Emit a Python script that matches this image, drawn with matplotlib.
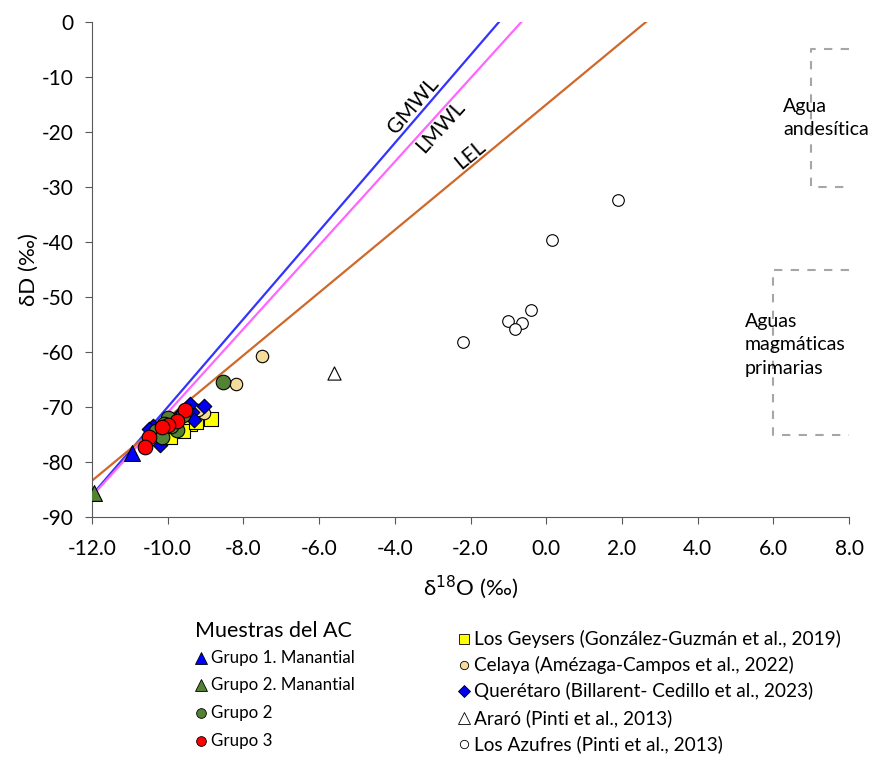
import numpy as np
import matplotlib.pyplot as plt

plt.rcParams['font.family'] = ['Lato', 'DejaVu Sans']

# meteoric / evaporation lines: slope, intercept
lines = {'GMWL': (8.0, 10.0), 'LMWL': (7.6, 5.0), 'LEL': (5.7, -15.0)}
line_colors = {'GMWL': '#3333ff', 'LMWL': '#ff66ff', 'LEL': '#d0682a'}
line_label_x = {'GMWL': -3.3, 'LMWL': -3.0, 'LEL': -1.85}
line_label_va = {'GMWL': 'bottom', 'LMWL': 'top', 'LEL': 'bottom'}

# samples (d18O, dD)
g1_man_x = [-10.95]
g1_man_y = [-78.3]
g2_man_x = [-11.95]
g2_man_y = [-85.6]
g2_x = [-8.55, -10.0, -9.75, -10.3, -10.15, -9.9, -9.6, -10.1]
g2_y = [-65.4, -72.0, -74.2, -74.3, -75.4, -73.5, -71.5, -73.0]
g3_x = [-9.55, -9.75, -10.0, -10.15, -10.5, -10.6]
g3_y = [-70.5, -72.6, -73.2, -73.6, -75.5, -77.3]
geysers_x = [-8.85, -9.4, -9.6, -9.95, -9.25]
geysers_y = [-72.2, -73.0, -74.4, -75.4, -72.8]
celaya_x = [-7.5, -8.2, -9.05, -9.2]
celaya_y = [-60.8, -65.8, -71.0, -70.5]
quer_x = [-9.05, -9.35, -9.4, -10.4, -10.2, -9.3, -9.7, -10.5]
quer_y = [-69.8, -70.9, -69.4, -73.4, -76.9, -72.3, -71.5, -74.0]
ararao_x = [-5.6]
ararao_y = [-63.9]
azufres_x = [1.9, 0.15, -0.4, -0.65, -1.0, -0.82, -2.2]
azufres_y = [-32.3, -39.7, -52.4, -54.7, -54.3, -55.9, -58.1]

# reference fields: x0, x1, y_top, y_bottom
andesitic = (7.0, 8.0, -5.0, -30.0)
magmatic = (6.0, 8.0, -45.0, -75.0)

fig = plt.figure(figsize=(8.8, 7.66), dpi=100)
ax = fig.add_axes([0.1045, 0.325, 0.8605, 0.6463])
ax.set_xlim(-12, 8)
ax.set_ylim(-90, 0)

xs = np.array([-12.0, 8.0])
for name, (m, b) in lines.items():
    ax.plot(xs, m * xs + b, color=line_colors[name], lw=1.6, zorder=2)
    lx = line_label_x[name]
    p1 = ax.transData.transform((0, b))
    p2 = ax.transData.transform((1, m + b))
    ang = np.degrees(np.arctan2(p2[1] - p1[1], p2[0] - p1[0]))
    ax.text(lx, m * lx + b, name, rotation=ang, rotation_mode='anchor', fontsize=15,
            ha='center', va=line_label_va[name])

gray = '#a6a6a6'
for x0, x1, yt, yb in [andesitic, magmatic]:
    ax.plot([x1, x0, x0, x1], [yt, yt, yb, yb], color=gray, lw=1.5,
            ls=(0, (4, 4)), zorder=1)
ax.text(6.26, -17.4, 'Agua\nandesítica', fontsize=14,
        ha='left', va='center', linespacing=1.45)
ax.text(5.25, -58.7, 'Aguas\nmagmáticas\nprimarias', fontsize=14,
        ha='left', va='center', linespacing=1.45)

ek = dict(edgecolors='black', linewidths=0.8)
ax.scatter(azufres_x, azufres_y, marker='o', s=70, facecolors='white', zorder=3, **ek)
ax.scatter(ararao_x, ararao_y, marker='^', s=90, facecolors='white', zorder=3, **ek)
ax.scatter(geysers_x, geysers_y, marker='s', s=95, facecolors='#ffff00', zorder=3, **ek)
ax.scatter(celaya_x, celaya_y, marker='o', s=80, facecolors='#f5dc9a', zorder=3, **ek)
ax.scatter(quer_x, quer_y, marker='D', s=55, facecolors='#0000ee', zorder=3, **ek)
ax.scatter(g2_x, g2_y, marker='o', s=110, facecolors='#548235', zorder=4, **ek)
ax.scatter(g3_x, g3_y, marker='o', s=110, facecolors='#ff0000', zorder=5, **ek)
ax.scatter(g1_man_x, g1_man_y, marker='^', s=130, facecolors='#0000ff', zorder=5, **ek)
ax.scatter(g2_man_x, g2_man_y, marker='^', s=130, facecolors='#548235', zorder=5, **ek)

ax.set_xticks(np.arange(-12, 9, 2))
ax.set_xticklabels([f'{v:.1f}' for v in np.arange(-12, 9, 2)], fontsize=15)
ax.set_yticks(np.arange(-90, 1, 10))
ax.set_yticklabels([f'{v}' for v in np.arange(-90, 1, 10)], fontsize=15)
for s in ['top', 'right']:
    ax.spines[s].set_visible(False)
for s in ['left', 'bottom']:
    ax.spines[s].set_color('#595959')
ax.tick_params(direction='out', length=5, color='#595959')
ax.tick_params(axis='x', pad=11)
ax.tick_params(axis='y', pad=8)
ax.set_xlabel('δ$^{18}$O (‰)', fontsize=16, labelpad=10)
ax.set_ylabel('δD (‰)', fontsize=16, labelpad=2)

# legend drawn as figure text
def fy(py):
    return 1 - py / 766
def fx(px):
    return px / 880

fig.text(fx(195), fy(631), 'Muestras del AC', fontsize=15.5, va='center')
left_items = [('^', '#0000ff', 'Grupo 1. Manantial'),
              ('^', '#548235', 'Grupo 2. Manantial'),
              ('o', '#548235', 'Grupo 2'),
              ('o', '#ff0000', 'Grupo 3')]
right_items = [('s', '#ffff00', 'Los Geysers (González-Guzmán et al., 2019)'),
               ('o', '#f5dc9a', 'Celaya (Amézaga-Campos et al., 2022)'),
               ('D', '#0000ee', 'Querétaro (Billarent- Cedillo et al., 2023)'),
               ('^', 'white', 'Araró (Pinti et al., 2013)'),
               ('o', 'white', 'Los Azufres (Pinti et al., 2013)')]
left_rows = [658, 685, 713, 741]
right_rows = [639, 665, 691, 718, 744]
for (mk, fc, lab), py in zip(left_items, left_rows):
    fig.lines.append(plt.Line2D([fx(201)], [fy(py)], marker=mk, ms=8 if mk == '^' else 7,
                                mfc=fc, mec='black', mew=0.6, transform=fig.transFigure))
    fig.text(fx(211), fy(py), lab, fontsize=12.2, va='center')
for (mk, fc, lab), py in zip(right_items, right_rows):
    fig.lines.append(plt.Line2D([fx(464)], [fy(py)], marker=mk,
                                ms={'s': 7, 'o': 6, 'D': 6, '^': 8}[mk],
                                mfc=fc, mec='black', mew=0.6, transform=fig.transFigure))
    fig.text(fx(474), fy(py), lab, fontsize=13.7, va='center')

fig.savefig('out.png', dpi=100)
